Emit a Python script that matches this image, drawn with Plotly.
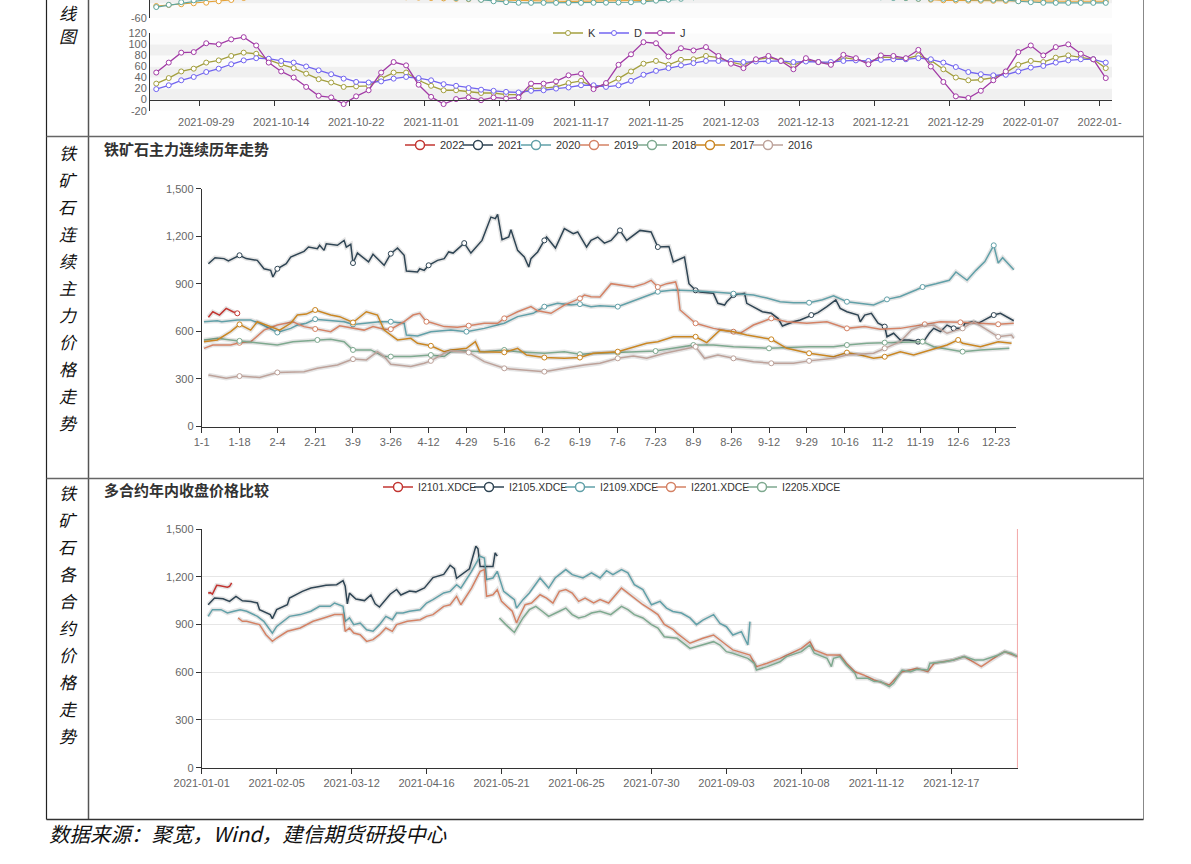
import plotly.graph_objects as go
import pandas as pd

W, H = 1191, 864
def fx(x): return x / W
def fy(y): return 1 - y / H

# ======================= DATA =======================
# ---- Panel 1 : KDJ (trading days) ----
kdj_holidays = ["2021-10-01", "2021-10-04", "2021-10-05", "2021-10-06", "2021-10-07", "2022-01-03"]
kdj_dates = [d.strftime("%Y-%m-%d") for d in pd.bdate_range("2021-09-23", "2022-01-17")
             if d.strftime("%Y-%m-%d") not in kdj_holidays]
kdj_K = [29, 39, 51, 56, 67, 71, 79, 85, 83, 72, 64, 57, 47, 37, 31, 23, 24, 25, 38, 49,
         49, 35, 25, 17, 17, 14, 12, 12, 9, 9, 20, 21, 23, 30, 34, 23, 27, 38, 51, 65,
         70, 63, 72, 73, 79, 76, 68, 63, 72, 76, 71, 62, 72, 68, 65, 76, 73, 68, 77, 76,
         74, 80, 71, 55, 40, 35, 36, 40, 49, 63, 70, 68, 76, 80, 77, 73, 57]
kdj_D = [19, 26, 35, 41, 50, 56, 64, 71, 75, 74, 70, 67, 60, 53, 46, 38, 32, 31, 33, 38,
         41, 39, 35, 28, 25, 21, 18, 16, 14, 13, 16, 17, 20, 22, 26, 26, 23, 26, 34, 45,
         52, 57, 62, 66, 70, 70, 70, 68, 69, 70, 70, 68, 69, 68, 68, 70, 71, 70, 72, 73,
         73, 75, 73, 67, 59, 50, 46, 44, 45, 51, 58, 61, 67, 71, 73, 73, 67]
kdj_J = [49, 67, 85, 86, 102, 100, 109, 113, 98, 67, 51, 40, 23, 7, 4, -8, 6, 17, 49, 68,
         62, 27, 5, -8, 1, 4, -1, 4, 2, 4, 29, 29, 33, 44, 47, 19, 30, 63, 82, 104,
         102, 78, 93, 89, 95, 79, 65, 57, 73, 79, 70, 55, 75, 68, 63, 81, 75, 64, 80, 79,
         75, 90, 60, 32, 6, 3, 16, 35, 51, 86, 98, 80, 95, 100, 83, 73, 39]
# upper (cut-off) indicator chart
upper_orange = [-43.6, -42.3, -41.3, -40.0, -39.2, -37.3, -35.6, -33.0, -30.0, -27.0,
                -25, -24, -24, -25, -26, -27, -28, -29, -30, -31,
                -32, -32.5, -33, -33.5, -34, -34.5, -35, -35.3, -35.5, -35.8,
                -36.2, -36.8, -37.3, -37.5, -37.4, -37.2, -36.8, -36.5, -36.4, -36.2,
                -35.6, -34, -32, -30, -28, -27, -26, -26, -26, -27,
                -27, -28, -28, -29, -29, -30, -30, -31, -31, -32,
                -33, -34, -35.2, -36.0, -36.3, -36.5, -36.6, -36.7, -36.8, -37.0,
                -37.1, -37.2, -37.2, -37.3, -37.3, -37.3, -37.3]
upper_teal = [-45.0, -42.0, -38.5, -36.0, -33, -30, -27, -24, -21, -19,
              -18, -18, -19, -20, -21, -22, -24, -25, -27, -28,
              -29, -30, -31, -32, -33, -34, -35.4, -37.3, -38.5, -39.3,
              -39.4, -39.4, -39.4, -39.4, -39.4, -39.3, -39.2, -39.0, -38.6, -37.8,
              -36.5, -35.2, -34, -32, -30, -29, -28, -27, -27, -27,
              -27, -28, -28, -29, -29, -30, -30, -31, -32, -33,
              -33, -34, -34, -34, -34.5, -35, -35.2, -35.4, -35.5, -37.3,
              -38.5, -39.3, -39.4, -39.4, -39.4, -39.4, -39.4]

# ---- Panel 2 : yearly main-contract series, x = day-of-year category index ----
year_cats = [f"{d.month}-{d.day}" for d in pd.date_range("2020-01-01", "2020-12-31")]
y2022 = [(3, 689), (5, 724), (8, 703), (11, 745), (14, 724), (16, 714)]
y2021 = [(3, 1027), (6, 1065), (10, 1059), (12, 1044), (17, 1080), (20, 1059), (25, 1048), (26, 1031),
         (28, 995), (31, 985), (32, 943), (34, 995), (38, 1027), (40, 1069), (46, 1105), (48, 1132),
         (52, 1122), (53, 1143), (55, 1111), (56, 1153), (61, 1143), (64, 1174), (65, 1132), (67, 1149),
         (68, 1031), (70, 1094), (73, 1059), (75, 1038), (77, 1086), (81, 1031), (82, 1017), (85, 1090),
         (88, 1126), (91, 1080), (92, 981), (97, 975), (98, 995), (100, 985), (102, 1017), (106, 1048),
         (109, 1059), (111, 1101), (113, 1094), (118, 1157), (121, 1094), (126, 1174), (130, 1321),
         (132, 1311), (133, 1338), (135, 1178), (138, 1195), (139, 1241), (142, 1111), (145, 1069),
         (147, 1006), (148, 1059), (151, 1101), (154, 1174), (155, 1195), (159, 1126), (163, 1248),
         (167, 1216), (169, 1227), (173, 1132), (175, 1174), (178, 1195), (181, 1157), (184, 1174),
         (188, 1237), (191, 1174), (197, 1237), (202, 1227), (205, 1132), (210, 1136), (212, 1038),
         (217, 1069), (219, 901), (222, 859), (224, 848), (230, 840), (232, 777), (235, 766), (236, 787),
         (239, 829), (244, 840), (245, 777), (248, 756), (252, 724), (256, 714), (259, 682), (261, 634),
         (266, 661), (269, 672), (274, 703), (277, 718), (281, 756), (285, 798), (287, 745), (290, 724),
         (295, 703), (296, 661), (298, 703), (301, 714), (304, 651), (307, 630), (308, 566), (311, 588),
         (314, 546), (318, 546), (322, 535), (325, 546), (327, 588), (329, 619), (332, 598), (335, 640),
         (338, 619), (342, 619), (343, 651), (347, 661), (349, 651), (353, 682), (356, 703), (359, 714),
         (362, 693), (365, 667)]
y2020 = [(1, 661), (7, 667), (9, 661), (16, 672), (22, 672), (26, 651), (34, 593), (40, 619), (43, 640),
         (47, 651), (51, 677), (58, 666), (64, 661), (68, 644), (73, 651), (80, 661), (85, 661), (91, 651),
         (92, 577), (97, 571), (103, 598), (112, 608), (119, 598), (127, 619), (136, 651), (142, 693),
         (149, 714), (154, 756), (160, 777), (166, 766), (170, 772), (175, 756), (179, 761), (187, 756),
         (193, 787), (197, 808), (205, 850), (212, 861), (221, 857), (230, 848), (239, 838), (248, 829),
         (254, 810), (260, 787), (266, 780), (273, 781), (279, 800), (284, 824), (290, 787), (296, 775),
         (302, 766), (308, 802), (314, 820), (321, 861), (324, 880), (330, 900), (336, 922), (339, 975),
         (344, 922), (348, 985), (352, 1040), (356, 1143), (358, 1031), (360, 1065), (363, 1020), (365, 989)]
y2019 = [(1, 493), (5, 514), (13, 514), (17, 528), (22, 534), (28, 608), (34, 640), (41, 661), (46, 630),
         (51, 615), (58, 598), (62, 635), (68, 619), (73, 608), (77, 630), (82, 614), (85, 614), (91, 661),
         (95, 703), (98, 714), (101, 661), (103, 656), (109, 630), (115, 626), (120, 636), (127, 651),
         (133, 651), (136, 682), (142, 724), (148, 756), (151, 730), (157, 714), (163, 766), (170, 808),
         (172, 829), (175, 819), (179, 817), (184, 901), (194, 880), (199, 901), (202, 922), (205, 880),
         (209, 901), (213, 912), (214, 861), (215, 735), (222, 651), (230, 619), (236, 604), (239, 598),
         (242, 588), (248, 640), (256, 682), (263, 661), (272, 651), (281, 661), (290, 619), (298, 630),
         (305, 613), (314, 619), (325, 645), (332, 661), (341, 657), (350, 651), (358, 645), (365, 651)]
y2018 = [(1, 546), (7, 556), (13, 546), (17, 540), (26, 525), (34, 514), (41, 535), (52, 546), (58, 550),
         (64, 535), (68, 483), (76, 483), (82, 441), (85, 441), (94, 441), (103, 451), (109, 441),
         (112, 472), (119, 477), (127, 472), (136, 483), (142, 472), (154, 462), (163, 472), (170, 456),
         (178, 462), (187, 466), (204, 476), (221, 514), (230, 514), (239, 503), (255, 493), (273, 503),
         (284, 503), (290, 514), (299, 525), (307, 529), (324, 535), (329, 503), (342, 472), (350, 483),
         (363, 493)]
y2017 = [(1, 535), (7, 546), (13, 598), (17, 644), (22, 608), (25, 661), (31, 630), (35, 608), (40, 651),
         (43, 703), (47, 709), (51, 735), (58, 703), (62, 693), (68, 656), (74, 724), (79, 703), (82, 608),
         (88, 546), (94, 556), (97, 525), (103, 509), (109, 472), (112, 483), (119, 493), (123, 535),
         (125, 472), (136, 468), (142, 493), (146, 451), (154, 435), (163, 430), (170, 435), (176, 462),
         (187, 472), (200, 525), (205, 535), (212, 566), (222, 566), (227, 529), (233, 609), (239, 598),
         (245, 577), (256, 550), (263, 493), (273, 462), (284, 440), (290, 466), (296, 451), (302, 430),
         (307, 440), (314, 472), (320, 451), (328, 483), (335, 514), (340, 546), (342, 525), (350, 503),
         (358, 535), (364, 525)]
y2016 = [(3, 325), (11, 304), (17, 318), (26, 309), (34, 341), (46, 346), (52, 367), (61, 388), (68, 425),
         (74, 420), (79, 472), (82, 441), (85, 393), (94, 378), (100, 399), (103, 414), (109, 462),
         (112, 477), (120, 467), (127, 409), (136, 367), (145, 357), (154, 346), (163, 367), (172, 388),
         (179, 399), (187, 430), (194, 445), (200, 430), (208, 462), (222, 503), (226, 430), (232, 451),
         (239, 430), (248, 409), (256, 399), (266, 399), (273, 414), (284, 430), (290, 451), (302, 462),
         (307, 493), (314, 535), (319, 609), (323, 630), (329, 640), (335, 588), (342, 619), (347, 661),
         (353, 609), (358, 566), (364, 577), (365, 556)]
years = ["2022", "2021", "2020", "2019", "2018", "2017", "2016"]
year_series = [y2022, y2021, y2020, y2019, y2018, y2017, y2016]
year_holidays = ["2019-02-04"]

# ---- Panel 3 : contracts, x = days since 2021-01-01 ----
contract_base = "2021-01-01"
i2101 = [(3, 1098), (4, 1100), (5, 1091), (6, 1120), (7, 1146), (8, 1145), (11, 1138), (12, 1134),
         (13, 1140), (14, 1161)]
i2105 = [(3, 1024), (6, 1066), (10, 1062), (13, 1045), (16, 1077), (19, 1049), (23, 1045), (26, 1035),
         (27, 993), (32, 962), (33, 937), (35, 993), (40, 1024), (41, 1066), (47, 1108), (51, 1129),
         (55, 1139), (58, 1146), (63, 1150), (66, 1175), (67, 1140), (68, 1030), (69, 1097), (72, 1060),
         (76, 1050), (79, 1085), (81, 1030), (83, 1010), (88, 1090), (91, 1120), (93, 1085), (97, 1110),
         (100, 1105), (104, 1130), (108, 1195), (113, 1215), (116, 1272), (118, 1250), (119, 1190),
         (125, 1250), (128, 1392), (129, 1375), (130, 1265), (136, 1265), (137, 1350), (138, 1329)]
i2109 = [(3, 951), (5, 993), (9, 993), (12, 972), (15, 983), (18, 993), (21, 983), (26, 951), (29, 920),
         (33, 846), (35, 888), (38, 920), (41, 951), (46, 962), (51, 983), (55, 1014), (60, 1014), (62, 1035),
         (66, 1014), (67, 920), (69, 941), (71, 899), (74, 909), (77, 867), (80, 858), (83, 899), (86, 951),
         (89, 930), (91, 972), (94, 972), (97, 983), (102, 993), (105, 1035), (108, 1056), (113, 1098),
         (116, 1108), (119, 1150), (121, 1129), (126, 1234), (130, 1329), (132, 1318), (133, 1182),
         (136, 1192), (138, 1234), (141, 1108), (146, 1056), (147, 1003), (150, 1056), (153, 1098),
         (158, 1192), (162, 1129), (165, 1192), (170, 1245), (173, 1213), (178, 1192), (182, 1224),
         (186, 1192), (189, 1238), (192, 1213), (196, 1245), (199, 1224), (202, 1150), (206, 1119),
         (210, 1024), (214, 1045), (217, 1003), (220, 982), (224, 972), (228, 941), (231, 899), (234, 928),
         (239, 962), (242, 907), (245, 886), (248, 834), (252, 855), (255, 771), (256, 918)]
i2201 = [(17, 941), (19, 920), (21, 920), (27, 899), (30, 836), (33, 794), (35, 815), (40, 857), (46, 878),
         (52, 920), (57, 941), (62, 962), (66, 962), (67, 857), (69, 878), (71, 846), (74, 836), (77, 794),
         (80, 805), (83, 836), (86, 878), (89, 857), (91, 899), (96, 920), (102, 930), (105, 951),
         (108, 962), (113, 1014), (116, 1024), (119, 1077), (121, 1024), (126, 1129), (130, 1234),
         (132, 1245), (133, 1077), (136, 1087), (138, 1119), (140, 1045), (145, 983), (147, 910),
         (148, 941), (151, 1024), (154, 1035), (158, 1087), (161, 1066), (164, 1035), (167, 1108),
         (170, 1119), (173, 1098), (176, 1045), (179, 1066), (183, 1035), (186, 1056), (190, 1035),
         (196, 1129), (199, 1098), (202, 1066), (206, 1024), (210, 990), (213, 962), (216, 900),
         (220, 870), (222, 844), (228, 782), (234, 813), (239, 834), (245, 771), (248, 740), (256, 708),
         (259, 635), (264, 656), (270, 687), (280, 750), (284, 792), (286, 740), (292, 708), (298, 708),
         (301, 656), (305, 603), (309, 583), (314, 551), (321, 520), (327, 603), (334, 624), (339, 603),
         (342, 656), (351, 677), (356, 698), (364, 635), (372, 708), (375, 729), (381, 698)]
i2205 = [(139, 941), (142, 899), (146, 850), (150, 941), (153, 993), (156, 1014), (159, 983), (162, 951),
         (167, 983), (170, 1003), (173, 962), (176, 941), (179, 951), (182, 972), (186, 983), (191, 962),
         (196, 1014), (199, 993), (202, 962), (206, 941), (210, 899), (213, 878), (216, 823), (222, 813),
         (228, 750), (234, 771), (239, 792), (242, 771), (245, 729), (248, 719), (255, 687), (258, 656),
         (259, 614), (264, 635), (270, 666), (273, 698), (280, 729), (284, 771), (286, 719), (292, 687),
         (294, 635), (295, 687), (298, 698), (301, 645), (305, 593), (306, 562), (311, 562), (314, 541),
         (317, 541), (321, 509), (323, 530), (327, 614), (331, 603), (334, 618), (339, 614), (340, 656),
         (347, 666), (351, 677), (356, 698), (361, 677), (365, 677), (372, 708), (375, 729), (378, 719),
         (381, 698)]
contracts = ["I2101.XDCE", "I2105.XDCE", "I2109.XDCE", "I2201.XDCE", "I2205.XDCE"]
contract_series = [i2101, i2105, i2109, i2201, i2205]
contract_marker_date = "2022-01-17"

# ======================= STYLE =======================
pal = ["#c23531", "#2f4554", "#61a0a8", "#d48265", "#7ea98f", "#ca8622", "#bda29a"]
kdj_colors = {"K": "#a39f3e", "D": "#7265f0", "J": "#a23ba6"}
tick_font = dict(family="Liberation Sans, Arial, sans-serif", size=11, color="#666")
cjk = "Noto Sans CJK SC"

fig = go.Figure()
shapes, annos = [], []

# ---------------- Panel 1 ----------------
xk = list(range(len(kdj_dates)))
for vals, col in [(upper_orange, "#e5a33a"), (upper_teal, "#5fa59c")]:
    fig.add_trace(go.Scatter(x=xk, y=vals, xaxis="x", yaxis="y", mode="lines+markers",
                             line=dict(color=col, width=1.2),
                             marker=dict(size=5, color="white", line=dict(color=col, width=1)),
                             showlegend=False, hoverinfo="skip"))
for name, vals in [("K", kdj_K), ("D", kdj_D), ("J", kdj_J)]:
    c = kdj_colors[name]
    fig.add_trace(go.Scatter(x=xk, y=vals, xaxis="x2", yaxis="y2", mode="lines+markers", name=name,
                             line=dict(color=c, width=1.3),
                             marker=dict(size=5, color="white", line=dict(color=c, width=1)),
                             legend="legend", hoverinfo="skip"))
band_a, band_b = "#fbfbfb", "#f0f0f0"
for k, lo in enumerate(range(-20, 120, 20)):
    shapes.append(dict(type="rect", xref="x2 domain", yref="y2", x0=0, x1=1, y0=lo, y1=lo + 20,
                       fillcolor=band_a if k % 2 == 0 else band_b, line_width=0, layer="below"))
for k, lo in enumerate(range(-60, -20, 20)):
    shapes.append(dict(type="rect", xref="x domain", yref="y", x0=0, x1=1, y0=lo, y1=lo + 20,
                       fillcolor=band_a if k % 2 == 0 else band_b, line_width=0, layer="below"))
kdj_tickvals = list(range(4, len(kdj_dates), 6))
# the last label is cut by the chart edge in the source: only "2022-01-" is visible
kdj_ticktext = [kdj_dates[i] if i < len(kdj_dates) - 1 else kdj_dates[i][:8] + "\u2007\u2007"
                for i in kdj_tickvals]

# ---------------- Panel 2 ----------------
tick_idx = list(range(0, 366, 17))
def marker_points(pairs, year):
    xs, ys = [], []
    for t in tick_idx:
        m, d = map(int, year_cats[t].split("-"))
        try:
            dt = pd.Timestamp(year=int(year), month=m, day=d)
        except ValueError:
            continue
        if dt.weekday() >= 5 or (m == 1 and d == 1) or dt.strftime("%Y-%m-%d") in year_holidays:
            continue
        best = min(pairs, key=lambda p: abs(p[0] - t))
        if abs(best[0] - t) <= 3:
            xs.append(best[0]); ys.append(best[1])
    return xs, ys

for yr, pairs, col in zip(years, year_series, pal):
    xs = [p[0] for p in pairs]; ys = [p[1] for p in pairs]
    fig.add_trace(go.Scatter(x=xs, y=ys, xaxis="x3", yaxis="y3", mode="lines",
                             line=dict(color="rgba(0,0,0,0.10)", width=4.5),
                             showlegend=False, hoverinfo="skip"))
    fig.add_trace(go.Scatter(x=xs, y=ys, xaxis="x3", yaxis="y3", mode="lines",
                             line=dict(color=col, width=1.5), showlegend=False, hoverinfo="skip"))
    mx, my = marker_points(pairs, yr)
    fig.add_trace(go.Scatter(x=mx, y=my, xaxis="x3", yaxis="y3", mode="markers",
                             marker=dict(size=5, color="white", line=dict(color=col, width=1)),
                             showlegend=False, hoverinfo="skip"))
    fig.add_trace(go.Scatter(x=[None], y=[None], xaxis="x3", yaxis="y3", mode="lines+markers", name=yr,
                             line=dict(color=col, width=1.5),
                             marker=dict(size=9, color="white", line=dict(color=col, width=1.5)),
                             legend="legend2"))
fig.add_trace(go.Scatter(x=[None], y=[None], xaxis="x3", yaxis="y3", mode="lines", name=" ",
                         line=dict(color="rgba(0,0,0,0)", width=0), legend="legend2", hoverinfo="skip"))

# ---------------- Panel 3 ----------------
base = pd.Timestamp(contract_base)
for nm, pairs, col in zip(contracts, contract_series, pal[:5]):
    xs = [base + pd.Timedelta(days=p[0]) for p in pairs]; ys = [p[1] for p in pairs]
    fig.add_trace(go.Scatter(x=xs, y=ys, xaxis="x4", yaxis="y4", mode="lines",
                             line=dict(color="rgba(0,0,0,0.10)", width=4.5),
                             showlegend=False, hoverinfo="skip"))
    fig.add_trace(go.Scatter(x=xs, y=ys, xaxis="x4", yaxis="y4", mode="lines",
                             line=dict(color=col, width=1.5), showlegend=False, hoverinfo="skip"))
    fig.add_trace(go.Scatter(x=[None], y=[None], xaxis="x4", yaxis="y4", mode="lines+markers", name=nm,
                             line=dict(color=col, width=1.5),
                             marker=dict(size=9, color="white", line=dict(color=col, width=1.5)),
                             legend="legend3"))
fig.add_trace(go.Scatter(x=[None], y=[None], xaxis="x4", yaxis="y4", mode="lines", name=" ",
                         line=dict(color="rgba(0,0,0,0)", width=0), legend="legend3", hoverinfo="skip"))
shapes.append(dict(type="line", xref="x4", yref="y4 domain", x0=contract_marker_date, x1=contract_marker_date,
                   y0=0, y1=1, line=dict(color="#ee8a8a", width=1.5)))
c_ticks = pd.date_range(contract_base, contract_marker_date, freq="35D")

# ---------------- table frame ----------------
def hline(y, x0, x1, c, w):
    shapes.append(dict(type="line", xref="paper", yref="paper", x0=fx(x0), x1=fx(x1), y0=fy(y), y1=fy(y),
                       line=dict(color=c, width=w), layer="above"))
def vline(x, y0, y1, c, w):
    shapes.append(dict(type="line", xref="paper", yref="paper", x0=fx(x), x1=fx(x), y0=fy(y0), y1=fy(y1),
                       line=dict(color=c, width=w), layer="above"))
vline(46.5, 0, 819.5, "#222", 1.2)
vline(88.5, 0, 819.5, "#555", 1.5)
vline(1143.5, 0, 819.5, "#888", 1)
hline(136.5, 46.5, 1143.5, "#666", 1.3)
hline(478.5, 46.5, 1143.5, "#666", 1.3)
hline(819.5, 46.5, 1143.5, "#333", 1.5)

kai = dict(family=cjk, size=17, color="#111", style="italic")
def vtext(chars, y0, step=27.0, x=68):
    for k, ch in enumerate(chars):
        annos.append(dict(text=ch, x=fx(x), y=fy(y0 + k * step), xref="paper", yref="paper",
                          showarrow=False, xanchor="center", yanchor="middle", font=kai, borderpad=0))
vtext("线图", 12.5, step=23)
vtext("铁矿石连续主力价格走势", 152)
vtext("铁矿石各合约价格走势", 492)
annos.append(dict(text="数据来源：聚宽，Wind，建信期货研投中心", x=fx(47), y=fy(833), xref="paper", yref="paper",
                  showarrow=False, xanchor="left", yanchor="middle",
                  font=dict(family=cjk, size=20.5, color="#111", style="italic")))
title_font = dict(family=cjk, size=15, color="#333", weight="bold")
annos.append(dict(text="铁矿石主力连续历年走势", x=fx(102), y=fy(148), xref="paper", yref="paper",
                  showarrow=False, xanchor="left", yanchor="middle", font=title_font))
annos.append(dict(text="多合约年内收盘价格比较", x=fx(102), y=fy(489), xref="paper", yref="paper",
                  showarrow=False, xanchor="left", yanchor="middle", font=title_font))

# ---------------- layout ----------------
xd1 = [fx(150), fx(1112)]
kdj_zero_py = 110.7 - (0 - (-20)) / 140 * (110.7 - 33.3)
axis_common = dict(showgrid=False, zeroline=False, showline=True, linecolor="#333", linewidth=1,
                   tickfont=tick_font, tickcolor="#333", automargin=False)
leg_font = dict(family="Liberation Sans, Arial, sans-serif", size=11, color="#333")
y1_ticks = [-60, -40]
y2_ticks = list(range(-20, 121, 20))
fig.update_layout(
    width=W, height=H, margin=dict(l=0, r=0, t=0, b=0, autoexpand=False),
    paper_bgcolor="white", plot_bgcolor="rgba(0,0,0,0)",
    font=dict(family="Liberation Sans, Arial, sans-serif"),
    xaxis=dict(domain=xd1, range=[-0.5, 76.5], anchor="y", visible=False, automargin=False),
    yaxis=dict(domain=[fy(18.3), 1], range=[-60, -35.6], anchor="x", tickmode="array",
               tickvals=y1_ticks, ticktext=[str(v) for v in y1_ticks], ticks="", **axis_common),
    xaxis2=dict(domain=xd1, range=[-0.5, 76.5], anchor="free", position=fy(kdj_zero_py),
                tickmode="array", tickvals=kdj_tickvals, ticktext=kdj_ticktext, ticks="",
                ticklabelstandoff=12,
                minor=dict(tickmode="array", tickvals=[v - 0.5 for v in kdj_tickvals], ticks="outside",
                           ticklen=5, tickcolor="#333"),
                **axis_common),
    yaxis2=dict(domain=[fy(110.7), fy(33.3)], range=[-20, 120], anchor="x2", tickmode="array",
                tickvals=y2_ticks, ticktext=[str(v) for v in y2_ticks], ticks="", **axis_common),
    xaxis3=dict(domain=[fx(201.7), fx(1016)], range=[0, 366], anchor="y3",
                tickmode="array", tickvals=tick_idx, ticktext=[year_cats[i] for i in tick_idx],
                ticks="outside", ticklen=5, **axis_common),
    yaxis3=dict(domain=[fy(426.5), fy(188.7)], range=[0, 1500], anchor="x3",
                tickvals=list(range(0, 1501, 300)), tickformat=",", ticks="outside", ticklen=5,
                **axis_common),
    xaxis4=dict(domain=[fx(201.7), fx(1017.7)], range=[contract_base, contract_marker_date], anchor="y4",
                type="date", tickmode="array", tickvals=list(c_ticks),
                ticktext=[d.strftime("%Y-%m-%d") for d in c_ticks],
                ticks="outside", ticklen=5, **axis_common),
    yaxis4=dict(domain=[fy(767.7), fy(529)], range=[0, 1500], anchor="x4",
                tickvals=list(range(0, 1501, 300)), tickformat=",", ticks="outside", ticklen=5,
                showgrid=True, gridcolor="#e6e6e6", zeroline=False, showline=True, linecolor="#333",
                tickfont=tick_font, tickcolor="#333", automargin=False),
    legend=dict(orientation="h", x=fx(548), y=fy(33), xanchor="left", yanchor="middle",
                entrywidth=1, entrywidthmode="pixels", font=leg_font, bgcolor="rgba(0,0,0,0)"),
    legend2=dict(orientation="h", x=fx(400), y=fy(145), xanchor="left", yanchor="middle",
                 entrywidth=13, entrywidthmode="pixels", font=leg_font, bgcolor="rgba(0,0,0,0)"),
    legend3=dict(orientation="h", x=fx(378), y=fy(487), xanchor="left", yanchor="middle",
                 entrywidth=46, entrywidthmode="pixels", font=dict(leg_font, size=10.5),
                 bgcolor="rgba(0,0,0,0)"),
    shapes=shapes, annotations=annos,
)
fig.write_html("out.html", config={"displayModeBar": False})
